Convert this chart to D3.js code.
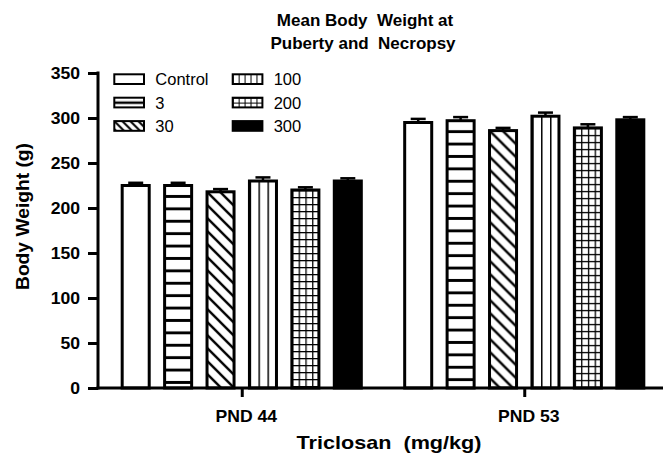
<!DOCTYPE html>
<html>
<head>
<meta charset="utf-8">
<script src="https://cdn.jsdelivr.net/npm/d3@7"></script>
<style>
  body { margin: 0; background: #fff; }
  text { font-family: "Liberation Sans", Arial, sans-serif; }
</style>
</head>
<body>
<svg id="chart" width="664" height="456"></svg>
<script>
// data
const groups = ['PND 44', 'PND 53'];
const doses = ['Control', '3', '30', '100', '200', '300'];
const fills = ['none', 'hstripe', 'diag', 'vline', 'grid', 'solid'];
const pnd44 = [225, 225, 218, 230, 220, 230];
const pnd53 = [295, 297, 286, 302, 289, 298];
const sem44 = [3, 3, 3, 4, 3, 3];
const sem53 = [4, 4, 3, 4, 4, 3];
const yTicks = [0, 50, 100, 150, 200, 250, 300, 350];

const svg = d3.select('#chart');
const defs = svg.append('defs');

const y = d3.scaleLinear().domain([0, 350]).range([388, 73]);
const x0 = d3.scalePoint().domain(groups).range([100.5, 665.5]).padding(0.5);
const x1 = d3.scaleBand().domain(doses).range([-127.2, 127.2])
  .paddingInner(0.363).paddingOuter(0.18);

const rows = groups.map((g, gi) => doses.map((d, i) => ({
  group: g,
  dose: d,
  kind: fills[i],
  value: gi === 0 ? pnd44[i] : pnd53[i],
  sem: gi === 0 ? sem44[i] : sem53[i]
}))).flat();

// one pattern per mark so the hatching lines up with the bar's own edges
let patId = 0;
function hatch(kind, bx, by, bw, opt) {
  if (kind === 'none') return '#fff';
  if (kind === 'solid') return '#000';
  const id = 'p' + (patId++);
  const p = defs.append('pattern').attr('id', id)
    .attr('patternUnits', 'userSpaceOnUse').attr('x', bx).attr('y', by);
  p.append('rect').attr('width', 100).attr('height', 100).attr('fill', '#fff');
  if (kind === 'hstripe') {
    p.attr('width', 20).attr('height', opt.hs);
    p.append('line').attr('x1', 0).attr('x2', 20).attr('y1', opt.hs0).attr('y2', opt.hs0)
      .attr('stroke', '#000').attr('stroke-width', opt.hw);
  } else if (kind === 'diag') {
    const s = opt.ds;
    p.attr('width', s).attr('height', s);
    p.append('path').attr('d', `M0,0L${s},${s}M${-s / 2},${s / 2}L${s / 2},${s * 1.5}M${s / 2},${-s / 2}L${s * 1.5},${s / 2}`)
      .attr('stroke', '#000').attr('stroke-width', opt.dw);
  } else if (kind === 'vline') {
    const s = bw / opt.vn;
    p.attr('width', s).attr('height', 20);
    p.append('line').attr('x1', 0).attr('x2', 0).attr('y1', 0).attr('y2', 20)
      .attr('stroke', '#000').attr('stroke-width', opt.vw * 2);
  } else if (kind === 'grid') {
    const s = bw / opt.gn;
    p.attr('width', s).attr('height', opt.gh);
    p.append('line').attr('x1', 0).attr('x2', 0).attr('y1', 0).attr('y2', opt.gh)
      .attr('stroke', '#000').attr('stroke-width', opt.gw * 2);
    p.append('line').attr('x1', 0).attr('x2', s).attr('y1', 0).attr('y2', 0)
      .attr('stroke', '#000').attr('stroke-width', opt.gw * 2);
  }
  return `url(#${id})`;
}

const barOpt = { hs: 12.4, hs0: 11, hw: 3, ds: 13, dw: 2.4, vn: 3, vw: 1.5, gn: 4, gh: 7, gw: 1.3 };
const bw = x1.bandwidth();

// error bars (drawn first, the bar outline covers the lower end)
const err = svg.append('g').attr('stroke', '#000');
rows.forEach(d => {
  const cx = x0(d.group) + x1(d.dose) + bw / 2;
  err.append('line').attr('x1', cx).attr('x2', cx)
    .attr('y1', y(d.value)).attr('y2', y(d.value + d.sem)).attr('stroke-width', 2.5);
  err.append('line').attr('x1', cx - 7.5).attr('x2', cx + 7.5)
    .attr('y1', y(d.value + d.sem)).attr('y2', y(d.value + d.sem)).attr('stroke-width', 2.5);
});

svg.append('g').selectAll('rect')
  .data(rows)
  .enter()
  .append('rect')
  .attr('x', d => x0(d.group) + x1(d.dose))
  .attr('y', d => y(d.value))
  .attr('width', bw)
  .attr('height', d => y(0) - y(d.value))
  .attr('fill', d => hatch(d.kind, x0(d.group) + x1(d.dose), y(d.value), bw, barOpt))
  .attr('stroke', '#000')
  .attr('stroke-width', 3);

// axes
const yAxis = svg.append('g').attr('transform', 'translate(98,0)')
  .call(d3.axisLeft(y).tickValues(yTicks).tickSize(10).tickPadding(0).tickSizeOuter(0));
yAxis.select('.domain').attr('stroke-width', 3).attr('d', `M0,${y(350) - 1.5}V${y(0) + 1.5}`);
yAxis.selectAll('.tick line').attr('stroke-width', 3);
yAxis.selectAll('.tick text')
  .attr('x', null)
  .attr('transform', 'translate(-18,0) scale(1.1,1)')
  .attr('font-size', 16).attr('font-weight', 'bold')
  .attr('font-family', '"Liberation Sans", Arial, sans-serif').attr('dy', '0.36em');

const xAxis = svg.append('g').attr('transform', `translate(0,${y(0)})`)
  .call(d3.axisBottom(x0).tickSize(9).tickPadding(0).tickSizeOuter(0));
xAxis.select('.domain').attr('stroke-width', 3).attr('d', 'M96.5,0H663');
xAxis.selectAll('.tick line').attr('stroke-width', 3);
xAxis.selectAll('.tick text')
  .attr('y', null).attr('dy', null)
  .attr('transform', 'translate(4,33.5) scale(1.1,1)')
  .attr('font-size', 16).attr('font-weight', 'bold')
  .attr('font-family', '"Liberation Sans", Arial, sans-serif');

// titles
const title = svg.append('text').attr('text-anchor', 'middle')
  .attr('font-size', 17).attr('font-weight', 'bold');
title.append('tspan').attr('x', 365).attr('y', 26).text('Mean Body\u00a0\u00a0Weight at');
title.append('tspan').attr('x', 363).attr('y', 49).text('Puberty and\u00a0\u00a0Necropsy');

svg.append('text').attr('text-anchor', 'middle')
  .attr('transform', 'translate(29,216.5) rotate(-90)')
  .attr('font-size', 19).attr('font-weight', 'bold')
  .attr('textLength', 147).attr('lengthAdjust', 'spacingAndGlyphs')
  .text('Body Weight (g)');

svg.append('text').attr('text-anchor', 'middle')
  .attr('x', 389).attr('y', 449)
  .attr('font-size', 19).attr('font-weight', 'bold')
  .attr('textLength', 185).attr('lengthAdjust', 'spacingAndGlyphs')
  .text('Triclosan\u00a0\u00a0(mg/kg)');

// legend
const legOpt = { hs: 20, hs0: 5, hw: 2.5, ds: 8, dw: 2, vn: 5, vw: 1, gn: 5, gh: 4.9, gw: 1 };
const legend = svg.append('g');
doses.forEach((d, i) => {
  const col = Math.floor(i / 3), row = i % 3;
  const lx = 114.3 + col * 118.4, ly = 74.3 + row * 23.4;
  legend.append('rect')
    .attr('x', lx).attr('y', ly).attr('width', 29.7).attr('height', 9.7)
    .attr('fill', hatch(fills[i], lx, ly, 29.7, legOpt))
    .attr('stroke', '#000').attr('stroke-width', 2);
  legend.append('text')
    .attr('x', lx + 41).attr('y', ly + 11)
    .attr('font-size', 16.5)
    .text(d);
});
</script>
</body>
</html>
